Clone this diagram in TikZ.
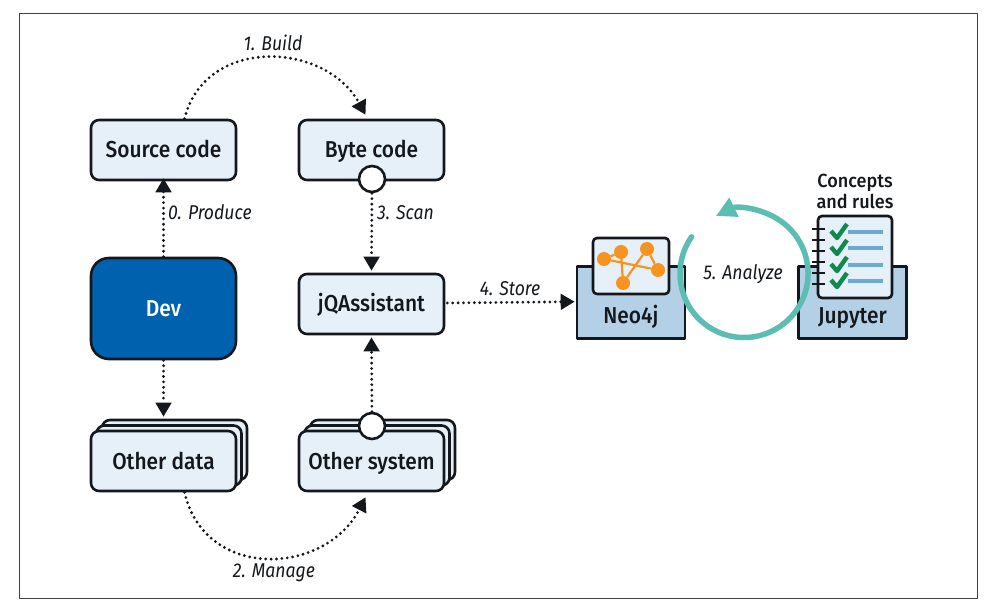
\documentclass[tikz,border=0pt]{standalone}
\usepackage{fontspec}
\setmainfont{Fira Sans}[FakeStretch=0.88]
\newfontfamily\boxfont{Fira Sans Medium}[FakeStretch=0.91]
\newfontfamily\titlefont{Fira Sans Medium}[FakeStretch=0.95]
\usetikzlibrary{arrows.meta,shadows}
\definecolor{boxfill}{HTML}{E6F0F8}
\definecolor{devblue}{HTML}{0062AE}
\definecolor{trayblue}{HTML}{B4D0E7}
\definecolor{inkblack}{HTML}{14181C}
\definecolor{graphorange}{HTML}{F7931E}
\definecolor{checkgreen}{HTML}{0E8A4F}
\definecolor{lineblue}{HTML}{6BA9D8}
\definecolor{loopteal}{HTML}{5CBDB3}
\begin{document}
\begin{tikzpicture}[
  x=1pt,
  y=1pt,
  line join=round,
  inkline/.style={draw=inkblack,line width=2.6pt},
  boxtext/.style={text=inkblack,text height=20pt,text depth=4pt,font=\boxfont\fontsize{23}{26}\selectfont},
  box/.style={inkline,boxtext,fill=boxfill,rounded corners=8pt,minimum width=145pt,minimum height=60pt},
  stackbox/.style={box,double copy shadow={shadow xshift=5.5pt,shadow yshift=5.5pt}},
  tray/.style={inkline,fill=trayblue,minimum width=108pt,minimum height=72pt},
  sheet/.style={inkline,fill=boxfill,rounded corners=4pt},
  port/.style={circle,inkline,fill=white,minimum size=26pt,inner sep=0pt},
  flow/.style={draw=inkblack,line width=3.1pt,line cap=round,dash pattern=on 0pt off 5.4pt,
    -{Triangle[width=15.5pt,length=14pt]}},
  steplabel/.style={text=inkblack,font=\itshape\fontsize{20}{24}\selectfont,inner sep=0pt},
  vertex/.style={circle,fill=graphorange,minimum size=14pt,inner sep=0pt},
  check/.style={draw=checkgreen,line width=4.4pt}
]
  \useasboundingbox (0,0) rectangle (996,611);
  \draw[draw=black!75,line width=1pt] (19,13) rectangle (977,597);

  % Left and middle columns.
  \node[box] (source) at (163.5,461) {Source code};
  \node[box] (byte) at (371.5,461) {Byte code};
  \node[box,fill=devblue,text=white,minimum height=101pt,rounded corners=18pt] (dev) at (163.5,302.5) {Dev};
  \node[box] (jqa) at (371.5,307) {jQAssistant};
  \node[stackbox] (data) at (163.5,150) {Other data};
  \node[stackbox] (system) at (371.5,150) {Other system};
  \node[port] (byteport) at (372,432) {};
  \node[port] (systemport) at (372,185) {};

  % Neo4j tray and its graph.
  \node[tray,anchor=south] (neo) at (631,271) {};
  \node[boxtext] (neolabel) at (631,295) {Neo4j};
  \node[sheet,minimum width=76pt,minimum height=56pt] (graph) at (631,345) {};
  \node[vertex] (g0) at (604,352) {};
  \node[vertex] (g1) at (621,359) {};
  \node[vertex] (g2) at (647,362) {};
  \node[vertex] (g3) at (658,341) {};
  \node[vertex] (g4) at (623,328) {};
  \foreach \a/\b in {g0/g1,g0/g3,g1/g4,g4/g2,g2/g3} {
    \draw[graphorange,line width=2.2pt] (\a) -- (\b);
  }

  % Jupyter tray and the rules sheet.
  \node[tray,anchor=south] (jupyter) at (852.5,271) {};
  \node[boxtext] (jupyterlabel) at (852.5,295) {Jupyter};
  \node[sheet,minimum width=74pt,minimum height=82pt] (rules) at (855,354) {};
  \node[text=inkblack,align=center,font=\titlefont\fontsize{19}{21}\selectfont,inner sep=0pt] (rulestitle) at (855,420) {Concepts\\and rules};
  \foreach \y in {382,371,360,349,338,327} {
    \draw[inkblack,line width=2.4pt] (812,\y) -- (825,\y);
  }
  \foreach \y in {379,363,346,330} {
    \draw[check] (831,\y+1) -- (837,\y-6) -- (847,\y+8);
    \draw[lineblue,line width=4.5pt] (848,\y) -- (883,\y);
  }

  % Connectors.
  \draw[flow] (dev.north) -- ([yshift=3pt]source.south);
  \draw[flow] (dev.south) -- ([yshift=13pt]data.north);
  \draw[flow] (byteport) -- ([yshift=2pt]jqa.north);
  \draw[flow] (systemport) -- ([yshift=-2pt]jqa.south);
  \draw[flow] ([xshift=2pt,yshift=1pt]jqa.east) -- ([xshift=-1pt,yshift=1pt]neo.west);
  \draw[flow] ([xshift=21pt]source.north) .. controls (205,575) and (325,570) .. ([xshift=-6pt,yshift=4pt]byte.north);
  \draw[flow] ([xshift=21pt]data.south) .. controls (205,30) and (325,35) .. ([xshift=-6pt,yshift=-5pt]system.south);

  % Analysis loop.
  \coordinate (loopstart) at (691.6,374.2);
  \draw[loopteal,line width=5.5pt,line cap=round,-{Triangle[width=20pt,length=20pt]}] (loopstart) arc[start angle=145,end angle=476,radius=64];

  % Step labels.
  \node[steplabel] (build) at (273,568) {1. Build};
  \node[steplabel] (manage) at (274,38) {2. Manage};
  \node[steplabel,anchor=west] (produce) at (168,399) {0. Produce};
  \node[steplabel,anchor=west] (scan) at (377,398) {3. Scan};
  \node[steplabel] (store) at (510,322) {4. Store};
  \node[steplabel] (analyze) at (743,337) {5. Analyze};
\end{tikzpicture}
\end{document}
